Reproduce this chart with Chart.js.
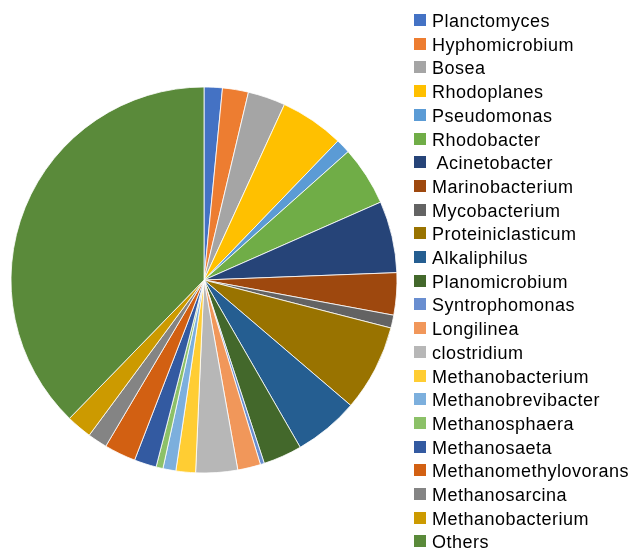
<!DOCTYPE html>
<html>
<head>
<meta charset="utf-8">
<script src="https://cdn.jsdelivr.net/npm/chart.js@4/dist/chart.umd.min.js"></script>
<style>
  html, body { margin: 0; padding: 0; background: #fff; }
  #wrap { position: relative; width: 632px; height: 549px; overflow: hidden; }
  #pie { position: absolute; left: 0; top: 0; }
  #legend { position: absolute; left: 0; top: 0; width: 632px; height: 549px; pointer-events: none; }
  .item { position: absolute; left: 414px; height: 24px; white-space: pre;
          font-family: "Liberation Sans", Arial, sans-serif; font-size: 18px;
          letter-spacing: 0.5px; color: #000; }
  .box { position: absolute; left: 0; width: 12px; height: 12px; }
  .txt { position: absolute; left: 18px; top: 0; line-height: 18px; }
</style>
</head>
<body>
<div id="wrap">
  <canvas id="pie" width="408" height="549"></canvas>
  <div id="legend"></div>
</div>
<script>
// Genus names, in slice order (clockwise from 12 o'clock)
const genera = [
  "Planctomyces", "Hyphomicrobium", "Bosea", "Rhodoplanes", "Pseudomonas",
  "Rhodobacter", " Acinetobacter", "Marinobacterium", "Mycobacterium",
  "Proteiniclasticum", "Alkaliphilus", "Planomicrobium", "Syntrophomonas",
  "Longilinea", "clostridium", "Methanobacterium", "Methanobrevibacter",
  "Methanosphaera", "Methanosaeta", "Methanomethylovorans", "Methanosarcina",
  "Methanobacterium", "Others"
];

// Relative abundance (%)
const abundance = [
  1.53, 2.17, 3.14, 5.36, 1.22,
  4.97, 6.00, 3.53, 1.08,
  7.25, 5.44, 3.25, 0.33,
  1.92, 3.50, 1.64, 1.08,
  0.58, 1.86, 2.64, 1.64,
  2.14, 37.72
];

const sliceColors = [
  "#4472C4", "#ED7D31", "#A5A5A5", "#FFC000", "#5B9BD5",
  "#70AD47", "#264478", "#9E480E", "#636363",
  "#997300", "#255E91", "#43682B", "#698ED0",
  "#F1975A", "#B7B7B7", "#FFCD33", "#7CAFDD",
  "#8CC168", "#335AA1", "#D26012", "#848484",
  "#CC9A00", "#5A8A3A"
];

new Chart(document.getElementById("pie"), {
  type: "pie",
  data: {
    labels: genera,
    datasets: [{
      data: abundance,
      backgroundColor: sliceColors,
      borderColor: "#ffffff",
      borderWidth: 0.8
    }]
  },
  options: {
    responsive: false,
    animation: false,
    radius: 193,
    layout: { padding: { top: 11, bottom: 0, left: 0, right: 0 } },
    plugins: {
      legend: { display: false },
      tooltip: { enabled: false }
    }
  }
});

// Legend column on the right
const legend = document.getElementById("legend");
const firstBaseline = 26, step = 23.7;
genera.forEach((name, i) => {
  const base = firstBaseline + i * step;
  const item = document.createElement("div");
  item.className = "item";
  item.style.top = (base - 14) + "px";
  const box = document.createElement("div");
  box.className = "box";
  box.style.top = "2px";
  box.style.background = sliceColors[i];
  const txt = document.createElement("div");
  txt.className = "txt";
  txt.textContent = name;
  item.appendChild(box);
  item.appendChild(txt);
  legend.appendChild(item);
});
</script>
</body>
</html>
